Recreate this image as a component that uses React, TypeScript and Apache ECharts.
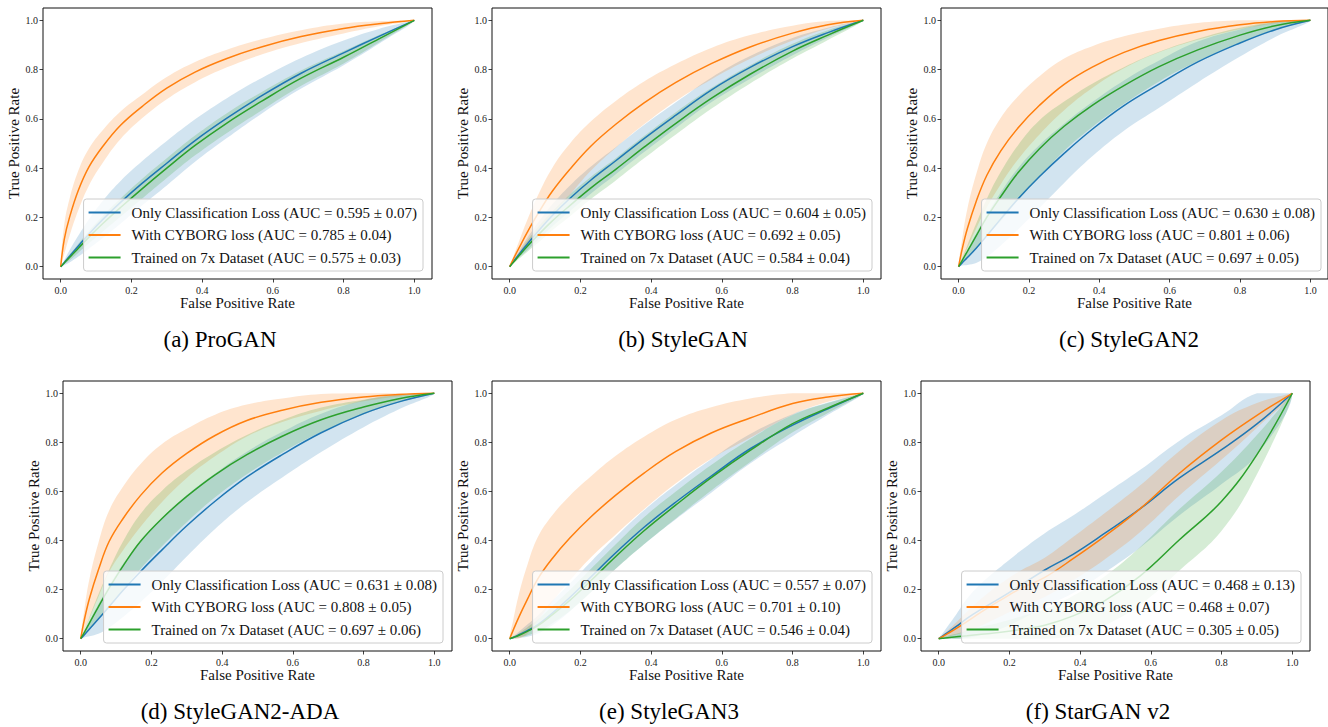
import React, { useEffect, useRef } from "react";
import * as echarts from "echarts";

// Shared false-positive-rate sample points and axis ticks
const FPR = [0, 0.01, 0.025, 0.05, 0.08, 0.12, 0.17, 0.23, 0.3, 0.38, 0.47, 0.57, 0.68, 0.8, 0.9, 1];
const TICKS = [0, 0.2, 0.4, 0.6, 0.8, 1.0];
const METHODS = ["Only Classification Loss", "With CYBORG loss", "Trained on 7x Dataset"];
const COLORS = ["#1f77b4", "#ff7f0e", "#2ca02c"];

// (a) ProGAN
const proganClsTpr = [0, 0.016, 0.042, 0.084, 0.133, 0.193, 0.262, 0.338, 0.42, 0.512, 0.603, 0.695, 0.785, 0.868, 0.935, 1];
const proganClsStd = [0, 0.01, 0.025, 0.043, 0.06, 0.076, 0.087, 0.09, 0.09, 0.086, 0.081, 0.072, 0.062, 0.05, 0.03, 0];
const proganCyborgTpr = [0, 0.11, 0.2, 0.31, 0.405, 0.49, 0.575, 0.65, 0.725, 0.79, 0.845, 0.893, 0.934, 0.967, 0.986, 1];
const proganCyborgStd = [0, 0.06, 0.075, 0.08, 0.075, 0.066, 0.056, 0.048, 0.045, 0.041, 0.036, 0.031, 0.026, 0.02, 0.01, 0];
const proganBigTpr = [0, 0.015, 0.037, 0.075, 0.12, 0.176, 0.241, 0.316, 0.4, 0.492, 0.583, 0.673, 0.765, 0.85, 0.925, 1];
const proganBigStd = [0, 0.005, 0.012, 0.018, 0.025, 0.032, 0.037, 0.04, 0.04, 0.04, 0.04, 0.037, 0.031, 0.025, 0.015, 0];
const proganAuc = [0.595, 0.785, 0.575];
const proganAucStd = [0.07, 0.04, 0.03];

// (b) StyleGAN
const styleganClsTpr = [0, 0.02, 0.048, 0.092, 0.143, 0.207, 0.277, 0.352, 0.43, 0.52, 0.615, 0.717, 0.809, 0.893, 0.95, 1];
const styleganClsStd = [0, 0.005, 0.012, 0.025, 0.035, 0.045, 0.052, 0.055, 0.055, 0.055, 0.052, 0.05, 0.046, 0.035, 0.02, 0];
const styleganCyborgTpr = [0, 0.03, 0.072, 0.14, 0.215, 0.305, 0.395, 0.49, 0.578, 0.665, 0.748, 0.824, 0.892, 0.948, 0.982, 1];
const styleganCyborgStd = [0, 0.01, 0.025, 0.05, 0.075, 0.095, 0.104, 0.1, 0.095, 0.087, 0.075, 0.064, 0.048, 0.03, 0.015, 0];
const styleganBigTpr = [0, 0.017, 0.042, 0.083, 0.128, 0.185, 0.248, 0.32, 0.395, 0.485, 0.582, 0.683, 0.781, 0.875, 0.94, 1];
const styleganBigStd = [0, 0.005, 0.012, 0.022, 0.032, 0.038, 0.044, 0.045, 0.045, 0.045, 0.045, 0.042, 0.037, 0.03, 0.02, 0];
const styleganAuc = [0.604, 0.692, 0.584];
const styleganAucStd = [0.05, 0.05, 0.04];

// (c) StyleGAN2
const stylegan2ClsTpr = [0, 0.015, 0.037, 0.075, 0.125, 0.194, 0.277, 0.366, 0.46, 0.558, 0.654, 0.741, 0.831, 0.908, 0.962, 1];
const stylegan2ClsStd = [0, 0.01, 0.03, 0.06, 0.085, 0.108, 0.125, 0.128, 0.12, 0.11, 0.102, 0.096, 0.083, 0.055, 0.03, 0];
const stylegan2CyborgTpr = [0, 0.07, 0.155, 0.265, 0.37, 0.47, 0.565, 0.655, 0.74, 0.81, 0.87, 0.918, 0.955, 0.982, 0.995, 1];
const stylegan2CyborgStd = [0, 0.04, 0.08, 0.11, 0.13, 0.135, 0.128, 0.118, 0.105, 0.085, 0.065, 0.048, 0.034, 0.018, 0.008, 0];
const stylegan2BigTpr = [0, 0.025, 0.062, 0.125, 0.2, 0.285, 0.383, 0.479, 0.57, 0.655, 0.735, 0.812, 0.88, 0.94, 0.978, 1];
const stylegan2BigStd = [0, 0.01, 0.025, 0.05, 0.075, 0.1, 0.112, 0.115, 0.1, 0.088, 0.075, 0.06, 0.045, 0.03, 0.015, 0];
const stylegan2Auc = [0.63, 0.801, 0.697];
const stylegan2AucStd = [0.08, 0.06, 0.05];

// (d) StyleGAN2-ADA
const ada2ClsTpr = [0, 0.015, 0.04, 0.08, 0.13, 0.197, 0.275, 0.362, 0.46, 0.56, 0.659, 0.75, 0.839, 0.917, 0.965, 1];
const ada2ClsStd = [0, 0.01, 0.03, 0.06, 0.085, 0.108, 0.125, 0.13, 0.125, 0.113, 0.103, 0.093, 0.078, 0.055, 0.03, 0];
const ada2CyborgTpr = [0, 0.075, 0.165, 0.28, 0.395, 0.49, 0.585, 0.675, 0.755, 0.828, 0.889, 0.931, 0.963, 0.985, 0.995, 1];
const ada2CyborgStd = [0, 0.04, 0.08, 0.11, 0.125, 0.13, 0.128, 0.118, 0.1, 0.085, 0.065, 0.048, 0.034, 0.018, 0.008, 0];
const ada2BigTpr = [0, 0.025, 0.065, 0.13, 0.205, 0.297, 0.398, 0.49, 0.58, 0.668, 0.75, 0.825, 0.892, 0.944, 0.978, 1];
const ada2BigStd = [0, 0.01, 0.025, 0.05, 0.075, 0.1, 0.112, 0.113, 0.105, 0.092, 0.08, 0.066, 0.05, 0.03, 0.015, 0];
const ada2Auc = [0.631, 0.808, 0.697];
const ada2AucStd = [0.08, 0.05, 0.06];

// (e) StyleGAN3
const stylegan3ClsTpr = [0, 0.005, 0.015, 0.033, 0.058, 0.104, 0.168, 0.252, 0.35, 0.454, 0.557, 0.663, 0.774, 0.87, 0.937, 1];
const stylegan3ClsStd = [0, 0.005, 0.012, 0.025, 0.037, 0.05, 0.057, 0.062, 0.065, 0.069, 0.07, 0.068, 0.06, 0.045, 0.025, 0];
const stylegan3CyborgTpr = [0, 0.035, 0.085, 0.16, 0.245, 0.326, 0.41, 0.497, 0.585, 0.675, 0.763, 0.838, 0.899, 0.958, 0.985, 1];
const stylegan3CyborgStd = [0, 0.04, 0.09, 0.14, 0.17, 0.176, 0.173, 0.165, 0.16, 0.148, 0.13, 0.105, 0.08, 0.045, 0.02, 0];
const stylegan3BigTpr = [0, 0.005, 0.013, 0.03, 0.053, 0.097, 0.156, 0.237, 0.335, 0.44, 0.545, 0.656, 0.767, 0.876, 0.94, 1];
const stylegan3BigStd = [0, 0.003, 0.008, 0.017, 0.025, 0.035, 0.043, 0.048, 0.05, 0.055, 0.055, 0.052, 0.047, 0.035, 0.02, 0];
const stylegan3Auc = [0.557, 0.701, 0.546];
const stylegan3AucStd = [0.07, 0.1, 0.04];

// (f) StarGAN v2
const starganClsTpr = [0, 0.01, 0.025, 0.05, 0.083, 0.12, 0.162, 0.216, 0.28, 0.344, 0.43, 0.53, 0.654, 0.77, 0.875, 1];
const starganClsStd = [0, 0.01, 0.025, 0.05, 0.08, 0.105, 0.125, 0.14, 0.15, 0.158, 0.16, 0.158, 0.152, 0.14, 0.125, 0];
const starganCyborgTpr = [0, 0.008, 0.021, 0.042, 0.07, 0.108, 0.153, 0.203, 0.25, 0.326, 0.418, 0.53, 0.673, 0.81, 0.91, 1];
const starganCyborgStd = [0, 0.005, 0.012, 0.025, 0.04, 0.055, 0.066, 0.073, 0.08, 0.088, 0.094, 0.095, 0.091, 0.08, 0.05, 0];
const starganBigTpr = [0, 0.002, 0.004, 0.008, 0.012, 0.018, 0.025, 0.037, 0.055, 0.093, 0.155, 0.256, 0.402, 0.56, 0.75, 1];
const starganBigStd = [0, 0.003, 0.007, 0.012, 0.02, 0.03, 0.04, 0.053, 0.065, 0.082, 0.1, 0.118, 0.125, 0.12, 0.08, 0];
const starganAuc = [0.468, 0.468, 0.305];
const starganAucStd = [0.13, 0.07, 0.05];

const FONT = "'Liberation Serif', 'Times New Roman', serif";
const W = 1328;
const H = 727;
const GRID_W = 389;
const SMOOTH = 0.4;

const panels = [
  { caption: "(a) ProGAN", tpr: [proganClsTpr, proganCyborgTpr, proganBigTpr], std: [proganClsStd, proganCyborgStd, proganBigStd], auc: proganAuc, aucStd: proganAucStd, left: 43, top: 8, height: 271, cx: 220, cy: 339 },
  { caption: "(b) StyleGAN", tpr: [styleganClsTpr, styleganCyborgTpr, styleganBigTpr], std: [styleganClsStd, styleganCyborgStd, styleganBigStd], auc: styleganAuc, aucStd: styleganAucStd, left: 492, top: 8, height: 271, cx: 683, cy: 339 },
  { caption: "(c) StyleGAN2", tpr: [stylegan2ClsTpr, stylegan2CyborgTpr, stylegan2BigTpr], std: [stylegan2ClsStd, stylegan2CyborgStd, stylegan2BigStd], auc: stylegan2Auc, aucStd: stylegan2AucStd, left: 941, top: 8, height: 271, cx: 1129, cy: 339 },
  { caption: "(d) StyleGAN2-ADA", tpr: [ada2ClsTpr, ada2CyborgTpr, ada2BigTpr], std: [ada2ClsStd, ada2CyborgStd, ada2BigStd], auc: ada2Auc, aucStd: ada2AucStd, left: 63, top: 381, height: 270, cx: 240, cy: 711 },
  { caption: "(e) StyleGAN3", tpr: [stylegan3ClsTpr, stylegan3CyborgTpr, stylegan3BigTpr], std: [stylegan3ClsStd, stylegan3CyborgStd, stylegan3BigStd], auc: stylegan3Auc, aucStd: stylegan3AucStd, left: 492, top: 381, height: 270, cx: 669, cy: 711 },
  { caption: "(f) StarGAN v2", tpr: [starganClsTpr, starganCyborgTpr, starganBigTpr], std: [starganClsStd, starganCyborgStd, starganBigStd], auc: starganAuc, aucStd: starganAucStd, left: 921, top: 381, height: 270, cx: 1098, cy: 711 },
];

function legendName(method: number, auc: number, sd: number) {
  return `${METHODS[method]} (AUC = ${auc.toFixed(3)} ± ${sd.toFixed(2)})`;
}

function buildOption() {
  const grid: any[] = [];
  const xAxis: any[] = [];
  const yAxis: any[] = [];
  const legend: any[] = [];
  const series: any[] = [];
  const graphic: any[] = [];

  panels.forEach((p, k) => {
    grid.push({
      left: p.left,
      top: p.top,
      width: GRID_W,
      height: p.height,
      show: true,
      borderColor: "#111",
      borderWidth: 1,
      backgroundColor: "transparent",
    });
    const axisCommon = {
      type: "value",
      gridIndex: k,
      min: -0.05,
      max: 1.05,
      axisLine: { show: false, onZero: false },
      axisTick: { show: true, customValues: TICKS, length: 3.5, lineStyle: { color: "#111", width: 0.8 } },
      splitLine: { show: false },
      nameLocation: "middle",
    };
    xAxis.push({
      ...axisCommon,
      axisLabel: { customValues: TICKS, formatter: (v: number) => v.toFixed(1), fontSize: 10, fontFamily: FONT, color: "#222", margin: 6 },
      name: "False Positive Rate",
      nameGap: 16,
      nameTextStyle: { fontSize: 15, fontFamily: FONT, color: "#111", verticalAlign: "top" },
    });
    yAxis.push({
      ...axisCommon,
      axisLabel: { customValues: TICKS, formatter: (v: number) => v.toFixed(1), fontSize: 10, fontFamily: FONT, color: "#222", margin: 5 },
      name: "True Positive Rate",
      nameGap: 21,
      nameTextStyle: { fontSize: 15, fontFamily: FONT, color: "#111" },
    });

    const names = [0, 1, 2].map((j) => legendName(j, p.auc[j], p.aucStd[j]));

    // mean ± std bands (clipped to [0, 1]), drawn below every line
    [0, 1, 2].forEach((j) => {
      const lo = p.tpr[j].map((v, i) => Math.max(0, v - p.std[j][i]));
      const hi = p.tpr[j].map((v, i) => Math.min(1, v + p.std[j][i]));
      series.push({
        type: "custom",
        name: `band-${k}-${j}`,
        xAxisIndex: k,
        yAxisIndex: k,
        data: FPR.map((x, i) => [x, lo[i], hi[i]]),
        encode: { x: 0, y: [1, 2] },
        clip: true,
        silent: true,
        z: 1,
        renderItem: (params: any, api: any) => {
          if (params.dataIndex !== 0) return null;
          const pts: number[][] = [];
          for (let i = 0; i < FPR.length; i++) pts.push(api.coord([FPR[i], hi[i]]));
          for (let i = FPR.length - 2; i >= 1; i--) pts.push(api.coord([FPR[i], lo[i]]));
          // keep the smoothed outline inside the unit square
          const tl = api.coord([0, 1]);
          const br = api.coord([1, 0]);
          return {
            type: "polygon",
            shape: { points: pts, smooth: SMOOTH, smoothConstraint: [[tl[0], tl[1]], [br[0], br[1]]] },
            style: { fill: COLORS[j], opacity: 0.2 },
          };
        },
      });
    });

    [0, 1, 2].forEach((j) => {
      series.push({
        type: "line",
        name: names[j],
        xAxisIndex: k,
        yAxisIndex: k,
        data: FPR.map((x, i) => [x, p.tpr[j][i]]),
        symbol: "none",
        smooth: SMOOTH,
        lineStyle: { color: COLORS[j], width: 1.5 },
        itemStyle: { color: COLORS[j] },
        silent: true,
        z: 3,
      });
    });

    legend.push({
      data: names,
      orient: "vertical",
      align: "left",
      right: W - (p.left + GRID_W - 9),
      bottom: H - (p.top + p.height - 8),
      icon: "rect",
      itemWidth: 32,
      itemHeight: 2,
      itemGap: 5.5,
      padding: [5, 6, 5, 5],
      backgroundColor: "rgba(255,255,255,0.8)",
      borderColor: "#cccccc",
      borderWidth: 1,
      borderRadius: 3,
      selectedMode: false,
      itemStyle: { borderWidth: 0 },
      textStyle: { fontSize: 15, lineHeight: 17, fontFamily: FONT, color: "#111", padding: [0, 0, 0, 6] },
      z: 10,
    });

    graphic.push({
      type: "text",
      x: p.cx,
      y: p.cy,
      style: {
        text: p.caption,
        fontSize: 23,
        fontFamily: FONT,
        fill: "#000",
        textAlign: "center",
        textVerticalAlign: "middle",
        align: "center",
        verticalAlign: "middle",
      },
    });
  });

  return {
    animation: false,
    backgroundColor: "#ffffff",
    grid,
    xAxis,
    yAxis,
    legend,
    series,
    graphic,
  };
}

export default function App() {
  const ref = useRef<HTMLDivElement>(null);
  useEffect(() => {
    if (!ref.current) return;
    const chart = echarts.init(ref.current, null, { renderer: "svg" });
    chart.setOption(buildOption());
    return () => chart.dispose();
  }, []);
  return (
    <div
      ref={ref}
      style={{ position: "fixed", left: 0, top: 0, width: W, height: H, background: "#fff" }}
    />
  );
}
